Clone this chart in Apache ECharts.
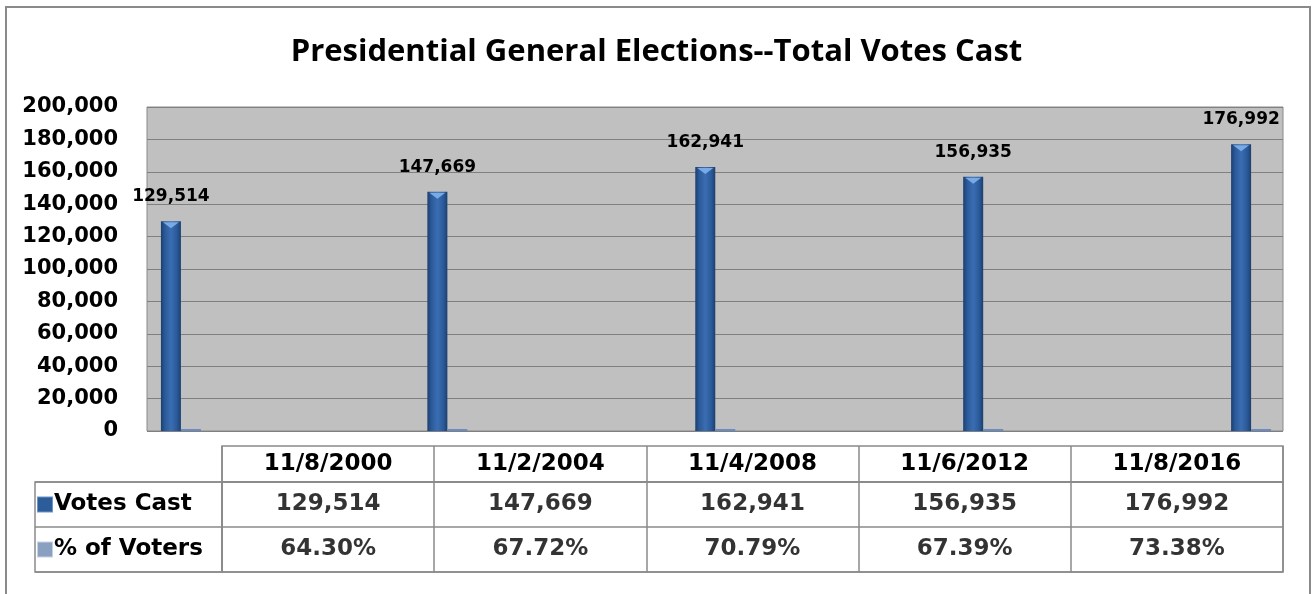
<!DOCTYPE html>
<html><head><meta charset="utf-8">
<script src="https://cdn.jsdelivr.net/npm/echarts@6/dist/echarts.min.js"></script>
<style>html,body{margin:0;padding:0;background:#fff}#c{width:1313px;height:594px}</style>
</head><body><div id="c"></div>
<script>
const chartTitle = 'Presidential General Elections--Total Votes Cast';
const categories = ['11/8/2000', '11/2/2004', '11/4/2008', '11/6/2012', '11/8/2016'];
const seriesNames = ['Votes Cast', '% of Voters'];
const votesCast = [129514, 147669, 162941, 156935, 176992];
const pctVoters = [64.30, 67.72, 70.79, 67.39, 73.38];
const yMin = 0, yMax = 200000, yStep = 20000;

function toTime(s) { const p = s.split('/').map(Number); return new Date(p[2], p[0] - 1, p[1]).getTime(); }
const fmtNum = v => Number(v).toLocaleString('en-US');
const fmtPct = v => v.toFixed(2) + '%';
const TFONT = 'Open Sans';
const FONT = 'DejaVu Sans';
const LINE = '#8a8a8a';

const tableCells = [];
categories.forEach((c, i) => {
  tableCells.push([i, 0, votesCast[i]]);
  tableCells.push([i, 1, pctVoters[i]]);
});

const chart = echarts.init(document.getElementById('c'));
const option = {
  animation: false,
  backgroundColor: '#fff',
  title: { text: chartTitle, left: 'center', top: 32,
    textStyle: { fontFamily: TFONT, fontWeight: 'bold', fontSize: 31, color: '#000' } },
  graphic: [{ type: 'rect', silent: true, z: -10,
    shape: { x: 6, y: 7, width: 1304, height: 620 },
    style: { fill: 'none', stroke: '#8a8a8a', lineWidth: 2 } }],
  grid: [
    { left: 147, right: 30, top: 107, height: 324, show: true, backgroundColor: '#c0c0c0', borderColor: '#8a8a8a', borderWidth: 1 },
    { left: 222, right: 30, top: 446, height: 36, show: true, borderColor: LINE, borderWidth: 1.5 },
    { left: 222, right: 30, top: 482, height: 90, show: true, borderColor: LINE, borderWidth: 1.5 },
    { left: 35, width: 187, top: 482, height: 90, show: true, borderColor: LINE, borderWidth: 1.5 }
  ],
  xAxis: [
    { type: 'time', gridIndex: 0, min: toTime('8/24/2000'), max: toTime('1/12/2017'), show: false },
    { type: 'category', gridIndex: 1, data: categories, position: 'top',
      axisLine: { show: false }, axisTick: { show: false },
      splitLine: { show: true, lineStyle: { color: LINE, width: 1.5 } },
      axisLabel: { inside: true, margin: 18, verticalAlign: 'middle', fontFamily: FONT, fontWeight: 'bold', fontSize: 23, color: '#000' } },
    { type: 'category', gridIndex: 2, data: categories,
      axisLine: { show: false }, axisTick: { show: false }, axisLabel: { show: false },
      splitLine: { show: true, lineStyle: { color: LINE, width: 1.5 } } },
    { type: 'category', gridIndex: 3, data: [''], show: false }
  ],
  yAxis: [
    { type: 'value', gridIndex: 0, min: yMin, max: yMax, interval: yStep,
      axisLine: { show: false }, axisTick: { show: false },
      splitLine: { lineStyle: { color: '#808080', width: 1 } },
      axisLabel: { formatter: fmtNum, margin: 29, fontFamily: FONT, fontWeight: 'bold', fontSize: 21, color: '#000' } },
    { type: 'category', gridIndex: 1, data: [''], show: false },
    { type: 'category', gridIndex: 2, data: seriesNames, inverse: true,
      axisLine: { show: false }, axisTick: { show: false }, axisLabel: { show: false },
      splitLine: { show: true, lineStyle: { color: LINE, width: 1.5 } } },
    { type: 'category', gridIndex: 3, data: seriesNames, inverse: true,
      axisLine: { show: false }, axisTick: { show: false },
      splitLine: { show: true, lineStyle: { color: LINE, width: 1.5 } },
      axisLabel: { inside: true, margin: 3, align: 'left',
        formatter: (v, i) => '{i' + i + '|}{t|' + v + '}',
        rich: {
          i0: { width: 14, height: 14, backgroundColor: '#2d5c9a', borderColor: '#6f95c8', borderWidth: 1 },
          i1: { width: 14, height: 14, backgroundColor: '#8aa0c0', borderColor: '#c4d2e6', borderWidth: 1 },
          t: { fontFamily: FONT, fontWeight: 'bold', fontSize: 23, color: '#000', padding: [0, 0, 0, 2] }
        } } }
  ],
  series: [
    { name: seriesNames[0], type: 'bar', xAxisIndex: 0, yAxisIndex: 0, barWidth: 20, barGap: '0%',
      data: categories.map((c, i) => [toTime(c), votesCast[i]]),
      itemStyle: { color: { type: 'linear', x: 0, y: 0, x2: 1, y2: 0, colorStops: [
        { offset: 0, color: '#1b3f70' }, { offset: 0.2, color: '#2b5a99' }, { offset: 0.5, color: '#3a6db3' },
        { offset: 0.8, color: '#2b5a99' }, { offset: 1, color: '#1b3f70' }] } },
      label: { show: true, position: 'top', distance: 16, formatter: p => fmtNum(p.value[1]),
        fontFamily: FONT, fontWeight: 'bold', fontSize: 17, color: '#000' },
      markPoint: { silent: true, symbol: 'triangle', symbolRotate: 180, symbolSize: [16, 6], symbolOffset: [0, 4],
        itemStyle: { color: '#79aae6' }, label: { show: false },
        data: categories.map((c, i) => ({ coord: [toTime(c), votesCast[i]] })) } },
    { name: seriesNames[1], type: 'bar', xAxisIndex: 0, yAxisIndex: 0, barWidth: 20, barMinHeight: 2,
      data: categories.map((c, i) => [toTime(c), pctVoters[i]]),
      itemStyle: { color: '#6a8cc2' } },
    { type: 'scatter', xAxisIndex: 2, yAxisIndex: 2, symbolSize: 1,
      itemStyle: { color: 'transparent' },
      data: tableCells,
      label: { show: true, position: 'inside',
        formatter: p => p.value[1] === 0 ? fmtNum(p.value[2]) : fmtPct(p.value[2]),
        fontFamily: FONT, fontWeight: 'bold', fontSize: 23, color: '#000' } }
  ]
};
chart.setOption(option);
</script></body></html>
